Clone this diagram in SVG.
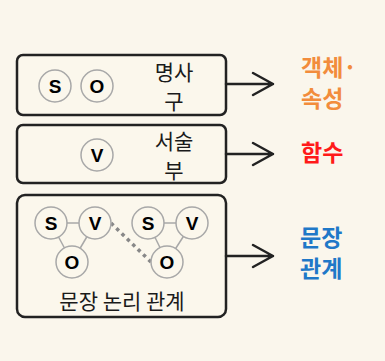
<svg xmlns="http://www.w3.org/2000/svg" width="385" height="361" viewBox="0 0 385 361">
<style>
.box{fill:#fbf7ec;stroke:#222;stroke-width:2.5}
.c{fill:#fbf7ec;stroke:#a8a8a8;stroke-width:1.5}
.l{font-family:"Liberation Sans",Arial,sans-serif;font-weight:bold;font-size:19px;fill:#000;text-anchor:middle}
.k{font-family:"Noto Sans CJK KR",sans-serif;font-size:21px;fill:#1a1a1a;text-anchor:middle}
.r{font-family:"Noto Sans CJK KR",sans-serif;font-size:23px;font-weight:bold}
.link{stroke:#a8a8a8;stroke-width:1.5;fill:none}
.arr{stroke:#222;stroke-width:2.5;fill:none;stroke-linecap:round;stroke-linejoin:round}
</style>
<rect width="385" height="361" fill="#faf6ec"/>
<g id="node-np">
<rect class="box" x="17" y="55" width="209" height="60" rx="6"/>
<circle class="c" cx="55" cy="86" r="16"/><text class="l" x="55" y="93">S</text>
<circle class="c" cx="97" cy="86" r="16"/><text class="l" x="97" y="93">O</text>
<text class="k" x="174" y="80">명사</text>
<text class="k" x="174" y="109">구</text>
</g>
<g id="node-vp">
<rect class="box" x="17" y="125" width="209" height="58" rx="6"/>
<circle class="c" cx="97" cy="155" r="16"/><text class="l" x="97" y="162">V</text>
<text class="k" x="174" y="149">서술</text>
<text class="k" x="174" y="178">부</text>
</g>
<g id="node-logic">
<rect class="box" x="17" y="195" width="209" height="122" rx="8"/>
<line class="link" x1="51" y1="223" x2="95" y2="223"/>
<line class="link" x1="51" y1="223" x2="72" y2="262"/>
<line class="link" x1="95" y1="223" x2="72" y2="262"/>
<line class="link" x1="148" y1="223" x2="192" y2="223"/>
<line class="link" x1="148" y1="223" x2="167" y2="262"/>
<line class="link" x1="192" y1="223" x2="167" y2="262"/>
<line x1="111" y1="223" x2="151" y2="262" stroke="#888" stroke-width="3.5" stroke-dasharray="3.5 4"/>
<circle class="c" cx="51" cy="223" r="16"/><text class="l" x="51" y="230">S</text>
<circle class="c" cx="95" cy="223" r="16"/><text class="l" x="95" y="230">V</text>
<circle class="c" cx="72" cy="262" r="16"/><text class="l" x="72" y="269">O</text>
<circle class="c" cx="148" cy="223" r="16"/><text class="l" x="148" y="230">S</text>
<circle class="c" cx="192" cy="223" r="16"/><text class="l" x="192" y="230">V</text>
<circle class="c" cx="167" cy="262" r="16"/><text class="l" x="167" y="269">O</text>
<text class="k" x="122" y="309">문장 논리 관계</text>
</g>
<g id="connectors">
<path class="arr" d="M226 84H273M253 73L273 84L253 95"/>
<path class="arr" d="M226 154H273M253 143L273 154L253 165"/>
<path class="arr" d="M226 256H273M253 245L273 256L253 267"/>
</g>
<g id="label-object">
<text class="r" x="301" y="76" fill="#f28c3c">객체·</text>
<text class="r" x="301" y="107" fill="#f28c3c">속성</text>
</g>
<g id="label-function">
<text class="r" x="301" y="161" fill="#ff1a1a">함수</text>
</g>
<g id="label-relation">
<text class="r" x="300" y="246" fill="#1f78c8">문장</text>
<text class="r" x="300" y="277" fill="#1f78c8">관계</text>
</g>
</svg>
